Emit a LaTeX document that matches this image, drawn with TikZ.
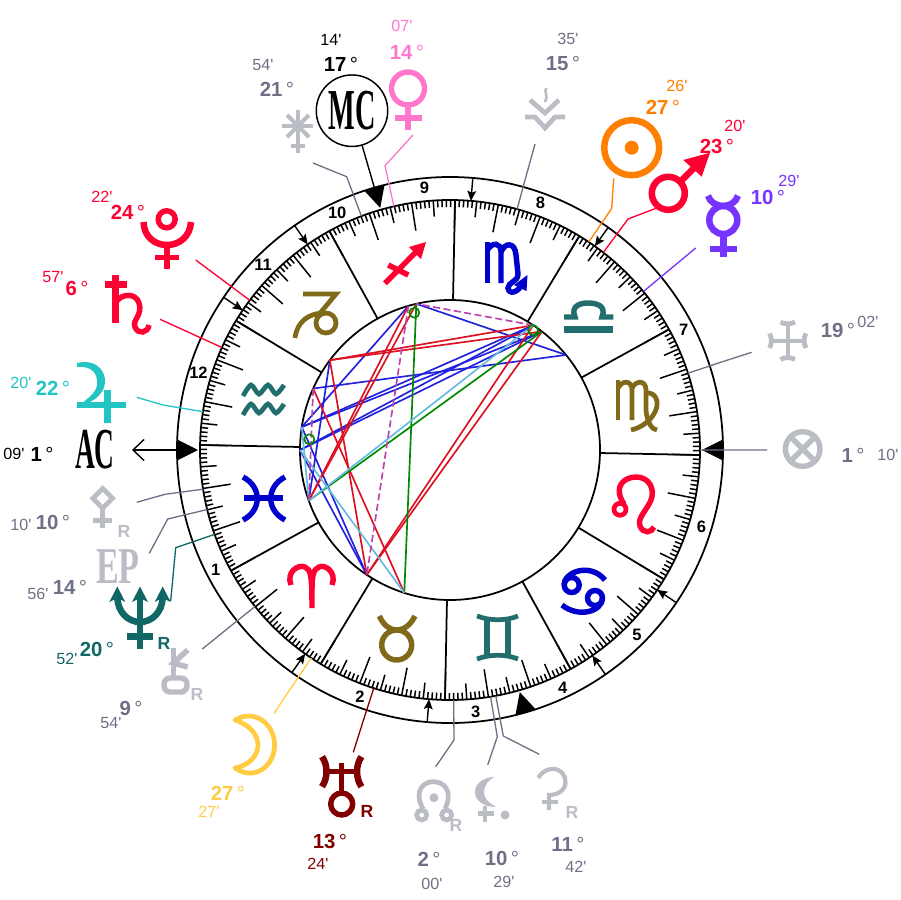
\documentclass[tikz,border=0pt]{standalone}
\usepackage{graphicx}
\usepackage{fontspec}
\usetikzlibrary{arrows.meta}
\newfontfamily\labelfont{Liberation Sans}
\newfontfamily\capfont{Liberation Serif}
\definecolor{redc}{HTML}{FF0033}
\definecolor{sunc}{HTML}{FF8000}
\definecolor{venusc}{HTML}{FF77CC}
\definecolor{mercc}{HTML}{7733FF}
\definecolor{jupc}{HTML}{22C4C4}
\definecolor{moonc}{HTML}{FFCC44}
\definecolor{neptc}{HTML}{116666}
\definecolor{uranc}{HTML}{800000}
\definecolor{tealc}{HTML}{226E6E}
\definecolor{bluec}{HTML}{0000CC}
\definecolor{brownc}{HTML}{806A1A}
\definecolor{greyg}{HTML}{BBBDC4}
\definecolor{greyt}{HTML}{6E7186}
\definecolor{asblue}{HTML}{2222DD}
\definecolor{asred}{HTML}{DD1122}
\definecolor{asgreen}{HTML}{008800}
\definecolor{aslight}{HTML}{66BBDD}
\definecolor{asdash}{HTML}{BB44AA}
\def\zerolng{208.85}

\begin{document}
\begin{tikzpicture}[x=0.02cm, y=-0.02cm,
    ring/.style={draw=black, line width=1pt},
    tickmark/.style={black, line width=0.85pt},
    cuspline/.style={black, line width=1pt},
    leader/.style={line width=0.75pt},
    aspect/.style={line width=0.95pt},
    housenum/.style={font=\labelfont\fontsize{9.4}{10}\selectfont\bfseries, inner sep=0pt},
    deglabel/.style={font=\labelfont\fontsize{11.6}{12}\selectfont, inner sep=0pt},
    minlabel/.style={font=\labelfont\fontsize{9.2}{10}\selectfont, inner sep=0pt},
    retro/.style={font=\labelfont\fontsize{10}{10}\selectfont\bfseries, inner sep=0pt},
    capword/.style={font=\capfont\fontsize{12}{14}\selectfont, inner sep=0pt},
    strokea/.style={line width=2.4pt},
    strokeb/.style={line width=2.7pt},
    strokec/.style={line width=3.1pt},
    stroked/.style={line width=3.7pt},
    smalltip/.style={-{Stealth[length=5.7pt, width=5pt, inset=1pt]}, line width=0.8pt}
]
    \useasboundingbox (0,0) rectangle (900,900);

    \begin{scope}[shift={(450,450)}]
    % Rings
    \draw[ring] (0,0) circle (273);
    \draw[ring] (0,0) circle (250);
    \draw[ring] (0,0) circle (150);

    % Degree ticks
    \foreach \lng in {0,...,359} {
        \pgfmathsetmacro{\tickend}{mod(\lng,10)==0 ? 222 : (mod(\lng,5)==0 ? 234 : 243)}
        \draw[tickmark] (-\zerolng-\lng:250) -- (-\zerolng-\lng:\tickend);
    }

    % Sign cusps
    \foreach \lng in {0,30,...,330}
        \draw[cuspline] (-\zerolng-\lng:150) -- (-\zerolng-\lng:250);

    % House cusps
    \foreach \ang in {54.6,85.2,124.7,146,234.6,265.2,304.7,326}
        \draw[smalltip] (-\ang:273) -- (-\ang:250);

    % Angles
    \foreach \ang/\nm in {180/ac,106.08/mc,0/dc,286.08/ic} {
        \fill (-\ang:252) -- (-\ang-2.2:273) -- (-\ang+2.2:273) -- cycle;
        \coordinate (base-\nm) at (-\ang:273);
    }

    % House numbers
    \foreach \n/\ang in {1/207,2/250,3/275.6,4/295.4,5/315.3,6/343,7/27.3,8/69.9,9/95.6,10/115.4,11/135.3,12/163}
        \node[housenum] (h\n) at (-\ang:263) {\n};

    % Points on the rings
    \foreach \nm/\lng in {sun/207.43,mars/203.33,merc/190.48,vesta/169.03,vert/151.17,
        selena/225.58,venus/254.12,mc/257.23,ceres/261.9,pluto/294.37,saturn/306.95,
        jup/322.33,ac/331.15,pallas/340.17,ep/344.93,nept/350.87,chir/9.9,moon/27.45,
        uran/43.4,node/62,lil/70.48,hyg/71.7} {
        \coordinate (p-\nm) at (-\zerolng-\lng:150);
        \coordinate (t-\nm) at (-\zerolng-\lng:250);
    }
    \end{scope}

    % Aspects
    \foreach \a/\b in {jup/sun,jup/mars,ac/sun,ac/mars,saturn/merc,venus/merc,mc/jup,
        pluto/nept,jup/moon,ac/moon}
        \draw[aspect, asblue] (p-\a) -- (p-\b);
    \foreach \a/\b in {pluto/sun,pluto/mars,venus/nept,mc/nept,pluto/moon,saturn/uran,
        moon/sun,moon/mars}
        \draw[aspect, asred] (p-\a) -- (p-\b);
    \foreach \a/\b in {venus/uran,nept/mars}
        \draw[aspect, asgreen] (p-\a) -- (p-\b);
    \foreach \a/\b in {sun/nept,jup/nept,ac/uran}
        \draw[aspect, aslight] (p-\a) -- (p-\b);
    \foreach \a/\b in {sun/venus,mc/moon,saturn/nept}
        \draw[aspect, asdash, dash pattern=on 4pt off 2pt] (p-\a) -- (p-\b);
    \foreach \x/\y in {414.3/312.7,309.3/439.3,533/330}
        \draw[aspect, asgreen] (\x,\y) circle (5);

    % Leaders
    \foreach \nm/\col/\bx/\by/\ex/\ey in {sun/sunc/611.7/208.3/613.7/178.3,
        mars/redc/628/219/656.7/208, merc/mercc/669.5/269.8/695.7/248,
        vesta/greyt/720/362.5/751.7/352.3, vert/greyt/733/450/767/450,
        selena/greyt/526/176.5/535/144, venus/venusc/385/165.7/413/135,
        ceres/greyt/346.7/176.7/313/163, pluto/redc/222.6/280/195.7/260,
        saturn/redc/191/333.4/160/319.3, jup/jupc/163/405/136.7/397.3,
        pallas/greyt/165/494.3/136.7/502.3, ep/greyt/167.7/519/149.3/553.3,
        nept/neptc/175.7/547.7/170.7/601, chir/greyt/228.6/627.7/202.3/649,
        moon/moonc/292.6/685.6/274/713.3, uran/uranc/363.5/720/353.3/752.3,
        node/greyt/454/740/435.7/766.7, lil/greyt/497.3/736.7/487.7/765,
        hyg/greyt/503.3/736/539.3/754.3} {
        \coordinate (g-\nm) at (\ex,\ey);
        \draw[leader, \col] (t-\nm) -- (\bx,\by) -- (g-\nm);
    }

    % Degrees and minutes
    \foreach \nm/\col/\dx/\dy/\dv/\mx/\my/\mv in {mc/black/341/64/17/331/40/14,
        venus/venusc/407/52/14/402/26/07, ceres/greyt/277/89/21/263/65/54,
        pluto/redc/128/212/24/102/197/22, saturn/redc/77/288/6/53/277/57,
        jup/jupc/53/388/22/21/383/20, ac/black/42/454/1/14/454/09,
        selena/greyt/563/63/15/568/39/35, sun/sunc/663/107/27/677/86/26,
        mars/redc/717/146/23/735/126/20, merc/mercc/768/197/10/789/181/29,
        vesta/greyt/838/330/19/868/322/02, vert/greyt/853/455/1/888/455/10,
        pallas/greyt/53/522/10/21/525/10, ep/greyt/70/587/14/38/594/56,
        nept/neptc/97/649/20/67/659/52, chir/greyt/131/708/9/111/723/54,
        moon/moonc/228/793/27/209/812/27, uran/uranc/330/841/13/318/864/24,
        node/greyt/429/859/2/432/884/00, lil/greyt/502/858/10/504/882/29,
        hyg/greyt/568/844/11/576/867/42} {
        \node[deglabel, text=\col] (d-\nm) at (\dx,\dy) {\textbf{\dv}\,°};
        \node[minlabel, text=\col] (m-\nm) at (\mx,\my) {\mv'};
    }

    % Retrograde marks
    \foreach \nm/\col/\x/\y in {pallas/greyg/124/531,nept/neptc/164/643,chir/greyg/197/694,
        uran/uranc/367/811,node/greyg/456/825.7,hyg/greyg/572/812}
        \node[retro, text=\col] (r-\nm) at (\x,\y) {R};

    % AC, MC, EP
    \node[capword] (ac) at (95,450) {\scalebox{1.3}[2.75]{\bfseries AC}};
    \node[capword, circle, draw=black, line width=0.85pt, minimum size=1.43cm] (mc) at (352,110.7)
        {\scalebox{1.34}[2.75]{\bfseries MC}};
    \node[capword, text=greyg] (ep) at (118,567) {\scalebox{1.62}[2.45]{\bfseries EP}};
    \coordinate (ac-tip) at (132,450);
    \draw[line width=0.8pt, -{Straight Barb[length=6.3pt, width=12pt]}] (base-ac) -- (ac-tip);
    \draw[line width=0.8pt] (base-mc) -- (mc);

    % Aries
    \draw[strokec, redc] (291,585) .. controls (286,572) and (298,564) .. (305,567)
        .. controls (311,569) and (312,577) .. (312,608);
    \draw[strokec, redc] (332,585) .. controls (337,572) and (325,564) .. (319,567)
        .. controls (313,569) and (312,577) .. (312,590);
    % Taurus
    \draw[strokec, brownc] (396.7,645) circle (15);
    \draw[strokec, brownc] (379.3,616) .. controls (384,626) and (390,630) .. (396.7,630)
        .. controls (403,630) and (410,626) .. (415,616);
    % Gemini
    \draw[strokeb, tealc] (477,616) .. controls (490,621) and (506,621) .. (518,616);
    \draw[strokeb, tealc] (477,659) .. controls (490,654) and (506,654) .. (518,659);
    \draw[strokec, tealc] (487,619) -- (487,656);
    \draw[strokec, tealc] (508,619) -- (508,656);
    % Cancer
    \draw[strokec, bluec] (571.7,585) circle (7.5);
    \draw[strokec, bluec] (595,598) circle (7.5);
    \draw[strokec, bluec] (564,585) .. controls (564,572) and (590,562) .. (605,580);
    \draw[strokec, bluec] (602.5,598) .. controls (602,612) and (578,618) .. (562,605);
    % Leo
    \draw[strokeb, redc] (620,509.3) circle (6);
    \draw[strokec, redc] (624,504) .. controls (612,486) and (625,477) .. (636,477)
        .. controls (650,477) and (655,490) .. (651,500)
        .. controls (647,510) and (637,518) .. (640,526)
        .. controls (643,534) and (652,533) .. (654,527);
    % Virgo
    \draw[strokeb, brownc] (618,380) -- (618,420);
    \draw[strokeb, brownc] (618,388) .. controls (622,380) and (632,380) .. (632,390) -- (632,420);
    \draw[strokeb, brownc] (632,388) .. controls (636,380) and (646,380) .. (646,390) -- (646,410)
        .. controls (647,422) and (652,430) .. (657,430);
    \draw[strokeb, brownc] (646,393) .. controls (656,392) and (660,402) .. (655,412)
        .. controls (650,422) and (640,428) .. (631,430);
    % Libra
    \draw[stroked, tealc] (564,329.3) -- (613.3,329.3);
    \draw[strokec, tealc] (564,317) -- (575,317) .. controls (570,305) and (582,303) .. (588,303)
        .. controls (595,303) and (607,305) .. (602,317) -- (613.3,317);
    % Scorpio
    \draw[strokec, bluec] (487.5,242) -- (487.5,283);
    \draw[strokec, bluec] (487.5,250) .. controls (492,242) and (501,242) .. (501,252) -- (501,283);
    \draw[strokec, bluec] (501,252) .. controls (505,242) and (515,242) .. (516,255) -- (518,274)
        .. controls (518,282) and (508,282) .. (508,288) .. controls (509,295) and (518,293) .. (523,283);
    \fill[bluec] (527.5,275) -- (526.5,291) -- (514,285) -- cycle;
    % Sagittarius
    \draw[strokec, redc] (385,283.3) -- (418,250);
    \draw[strokec, redc] (388.3,265) -- (408.3,275);
    \fill[redc] (426,242) -- (409,247) -- (421,259) -- cycle;
    % Capricorn
    \draw[strokeb, brownc] (303,294) -- (336,294) -- (316,318);
    \draw[strokeb, brownc] (326,323) circle (10);
    \draw[strokeb, brownc] (295,338) .. controls (297,322) and (308,313) .. (325,313);
    % Aquarius
    \draw[strokeb, tealc] plot[smooth] coordinates {(243,396) (251,385) (259,394) (268,385) (276,394) (284,385)};
    \draw[strokeb, tealc] plot[smooth] coordinates {(243,415) (251,404) (259,413) (268,404) (276,413) (284,404)};
    % Pisces
    \draw[strokec, bluec] (243,477) .. controls (262,487) and (262,510) .. (243,520);
    \draw[strokec, bluec] (285,477) .. controls (266,487) and (266,510) .. (285,520);
    \draw[strokec, bluec] (244,498) -- (283,498);

    % Venus
    \draw[strokec, venusc] (408,88.5) circle (16.5);
    \draw[strokec, venusc] (408,105) -- (408,130);
    \draw[strokec, venusc] (395,118) -- (422,118);
    % Ceres
    \draw[strokea, greyg] (298,110) -- (298,153);
    \draw[strokea, greyg] (282,126) -- (313,126);
    \draw[strokea, greyg] (287,115) -- (309,137);
    \draw[strokea, greyg] (309,115) -- (287,137);
    \draw[strokea, greyg] (291,146) -- (305,146);
    % Pluto
    \draw[strokec, redc] (166.7,219.3) circle (8.5);
    \draw[stroked, redc] (143.5,222) .. controls (144,237) and (155,245) .. (167,245)
        .. controls (179,245) and (190,237) .. (191,222);
    \draw[strokec, redc] (167,245) -- (167,269);
    \draw[strokec, redc] (155,257.5) -- (179,257.5);
    % Saturn
    \draw[stroked, redc] (115.7,275) -- (115.7,322.7);
    \draw[stroked, redc] (105,284.3) -- (126.7,284.3);
    \draw[strokec, redc] (116,302) .. controls (122,293) and (136,293) .. (139,303)
        .. controls (143,315) and (132,320) .. (135,327) .. controls (138,335) and (148,333) .. (149,325);
    % Jupiter
    \fill[jupc] (77,363) .. controls (98,358) and (110,374) .. (103,390)
        .. controls (98,398) and (92,402) .. (86,403) -- (76,408)
        .. controls (88,398) and (99,392) .. (97,380) .. controls (96,370) and (88,366) .. (77,367) -- cycle;
    \draw[strokec, jupc] (77,405) -- (126,405);
    \draw[stroked, jupc] (107.7,390) -- (107.7,422.7);
    % Pallas
    \draw[strokeb, greyg] (102.7,488.5) -- (112.5,498.3) -- (102.7,508.1) -- (92.9,498.3) -- cycle;
    \draw[strokeb, greyg] (102.7,509) -- (102.7,528);
    \draw[strokeb, greyg] (93.3,520.7) -- (111.7,520.7);
    % Neptune
    \draw[stroked, neptc] (117.3,597) .. controls (117.5,612) and (128,622) .. (140,622)
        .. controls (152,622) and (162.5,612) .. (162.7,597);
    \draw[stroked, neptc] (140,596) -- (140,649);
    \draw[stroked, neptc] (126.7,636.7) -- (153.3,636.7);
    \foreach \x in {117.3,140,162.7}
        \fill[neptc] (\x,586.5) -- (\x+8,602) -- (\x,598) -- (\x-8,602) -- cycle;
    % Kiron
    \draw[strokec, greyg] (173.3,648) -- (173.3,677);
    \draw[strokec, greyg] (187.7,650) -- (173.3,663) -- (187.7,667);
    \draw[strokec, greyg, rounded corners=3.5pt] (164,678) rectangle (187,692);
    % Moon
    \draw[strokeb, moonc, line join=round] (235,720) .. controls (255,708) and (275,725) .. (274.5,745)
        .. controls (275,765) and (255,782) .. (235,768)
        .. controls (250,765) and (258,755) .. (258,745)
        .. controls (258,735) and (250,725) .. (235,720) -- cycle;
    % Uranus
    \draw[strokec, uranc] (341.7,804) circle (11);
    \draw[strokec, uranc] (341.7,763) -- (341.7,793);
    \draw[strokec, uranc] (328,771.7) -- (355,771.7);
    \draw[stroked, uranc] (322,756.7) .. controls (328,765) and (328,778) .. (322,786.7);
    \draw[stroked, uranc] (361.5,756.7) .. controls (355.5,765) and (355.5,778) .. (361.5,786.7);
    % North node
    \draw[strokeb, greyg] (423,809) .. controls (413,790) and (424,781.7) .. (433.3,781.7)
        .. controls (443,781.7) and (454,790) .. (445,809);
    \draw[strokeb, greyg] (421.7,815) circle (5);
    \draw[strokeb, greyg] (446.7,815) circle (5);
    \fill[greyg] (434,797.7) circle (4.5);
    % Lilith
    \fill[greyg] (495,776.5) .. controls (481,778) and (475,785) .. (475,792)
        .. controls (475,800) and (483,807) .. (496,807)
        .. controls (487,802) and (484,797) .. (484,792)
        .. controls (484,786) and (488,780) .. (495,776.5) -- cycle;
    \draw[strokea, greyg] (485,806) -- (485,822);
    \draw[strokea, greyg] (477.7,813.5) -- (494,813.5);
    \fill[greyg] (505,815) circle (4.5);
    % Hygiea
    \draw[strokea, greyg] (538.5,778) .. controls (542,771) and (548,769) .. (553,769)
        .. controls (561,769) and (565.5,775) .. (565.5,782)
        .. controls (565.5,790) and (558,795) .. (549,795) -- (549,810);
    \draw[strokea, greyg] (541.7,801.7) -- (557.7,801.7);
    % Sun
    \draw[stroked, sunc] (631.7,147.7) circle (27.5);
    \fill[sunc] (631.7,147.7) circle (7);
    % Mars
    \draw[stroked, redc] (668.3,193.3) circle (16.5);
    \draw[stroked, redc] (681,181) -- (702,160);
    \fill[redc] (710,152.7) -- (683.3,160) -- (701.7,176.7) -- cycle;
    % Mercury
    \draw[stroked, mercc] (723.3,220) circle (14);
    \draw[stroked, mercc] (708,195.7) .. controls (710,202) and (716,206) .. (723.3,206)
        .. controls (730,206) and (736,202) .. (738,195.7);
    \draw[stroked, mercc] (723.3,234) -- (723.3,256.7);
    \draw[stroked, mercc] (710,249) -- (736.7,249);
    % Vesta cross
    \draw[strokea, greyg] (787.7,323) -- (787.7,359);
    \draw[strokea, greyg] (769.5,340.7) -- (806,340.7);
    \draw[strokeb, greyg] (780.5,322) .. controls (784,324.5) and (791,324.5) .. (795,322);
    \draw[strokeb, greyg] (780.5,359.5) .. controls (784,357) and (791,357) .. (795,359.5);
    \draw[strokeb, greyg] (769.5,333.5) .. controls (772,337) and (772,344) .. (769.5,348);
    \draw[strokeb, greyg] (806,333.5) .. controls (803.5,337) and (803.5,344) .. (806,348);
    % Vertex
    \draw[strokec, greyg] (802.7,449) circle (17.3);
    \draw[strokec, greyg] (790.5,436.8) -- (815,461.2);
    \draw[strokec, greyg] (815,436.8) -- (790.5,461.2);
    % Selena
    \draw[strokeb, greyg] (530,100) -- (545,113) -- (559,100);
    \draw[strokeb, greyg] (525,117) -- (535,117) -- (545,128) -- (555,117) -- (565,117);
    \draw[line width=1.5pt, greyg] (546.5,88) .. controls (543,92) and (549,94) .. (545,102);
\end{tikzpicture}
\end{document}
